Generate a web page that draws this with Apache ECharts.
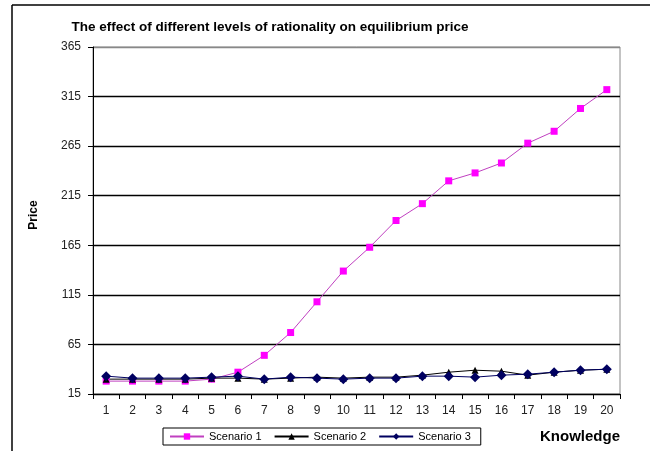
<!DOCTYPE html>
<html>
<head>
<meta charset="utf-8">
<script src="https://cdn.jsdelivr.net/npm/echarts@6/dist/echarts.min.js"></script>
<style>html,body{margin:0;padding:0;background:#fff;}#c{width:650px;height:451px;}</style>
</head>
<body>
<div id="c"></div>
<script>
var categories = ['1','2','3','4','5','6','7','8','9','10','11','12','13','14','15','16','17','18','19','20'];
var scenario1 = [28, 28, 28, 28, 30, 37, 54, 77, 108, 139, 163, 190, 207, 230, 238, 248, 268, 280, 303, 322];
var scenario2 = [30, 30, 30, 30, 31, 31, 30, 31, 32, 31, 32, 32, 34, 37, 39, 38, 34, 37, 39, 40];
var scenario3 = [33, 31, 31, 31, 32, 33, 30, 32, 31, 30, 31, 31, 33, 33, 32, 34, 35, 37, 39, 40];
var yTicks = { min: 15, max: 365, step: 50 };

var chart = echarts.init(document.getElementById('c'), null, { renderer: 'canvas' });
var font = 'Liberation Sans, Arial, sans-serif';
chart.setOption({
  animation: false,
  backgroundColor: '#fff',
  title: {
    text: 'The effect of different levels of rationality on equilibrium price',
    left: 265, top: 15, textAlign: 'center',
    textStyle: { fontFamily: font, fontSize: 13.5, fontWeight: 'bold', color: '#000' }
  },
  graphic: [
    { type: 'line', shape: { x1: 12, y1: 5, x2: 12, y2: 451 }, style: { stroke: '#000', lineWidth: 1.5 } },
    { type: 'line', shape: { x1: 12, y1: 5, x2: 650, y2: 5 }, style: { stroke: '#000', lineWidth: 1.5 } },
    { type: 'text', left: 540, top: 429, style: { text: 'Knowledge', font: 'bold 15px ' + font, fill: '#000' } },
    { type: 'text', x: 34, y: 215, rotation: Math.PI / 2, style: { text: 'Price', font: 'bold 12px ' + font, fill: '#000', textAlign: 'center', textVerticalAlign: 'middle' } }
  ],
  legend: {
    left: 163, top: 428,
    itemWidth: 34, itemHeight: 8, itemGap: 12,
    padding: [3, 10, 3, 6],
    borderColor: '#000', borderWidth: 1,
    textStyle: { fontFamily: font, fontSize: 11, color: '#000' },
    data: ['Scenario 1', 'Scenario 2', 'Scenario 3']
  },
  grid: { left: 93, right: 30, top: 47, bottom: 57, show: true, borderColor: '#888', borderWidth: 1 },
  xAxis: {
    type: 'category',
    data: categories,
    boundaryGap: true,
    axisLine: { lineStyle: { color: '#000', width: 1 } },
    axisTick: { show: true, alignWithLabel: false, length: 5, lineStyle: { color: '#000' } },
    axisLabel: { fontFamily: font, fontSize: 12, color: '#222', margin: 11 }
  },
  yAxis: {
    type: 'value',
    min: yTicks.min, max: yTicks.max, interval: yTicks.step,
    axisLine: { show: true, lineStyle: { color: '#000', width: 1 } },
    axisTick: { show: true, length: 5, lineStyle: { color: '#000' } },
    axisLabel: { fontFamily: font, fontSize: 12, color: '#222', margin: 12 },
    splitLine: { show: true, lineStyle: { color: ['#000','#000','#000','#000','#000','#000','#000','#888'], width: 1.3 } }
  },
  series: [
    { name: 'Scenario 1', type: 'line', data: scenario1, symbol: 'rect', symbolSize: 7,
      itemStyle: { color: '#FF00FF' }, lineStyle: { color: '#C040C0', width: 1 } },
    { name: 'Scenario 2', type: 'line', data: scenario2, symbol: 'triangle', symbolSize: 7,
      itemStyle: { color: '#000' }, lineStyle: { color: '#000', width: 1 } },
    { name: 'Scenario 3', type: 'line', data: scenario3, symbol: 'diamond', symbolSize: 10,
      itemStyle: { color: '#000060' }, lineStyle: { color: '#000060', width: 1 } }
  ]
});
</script>
</body>
</html>
